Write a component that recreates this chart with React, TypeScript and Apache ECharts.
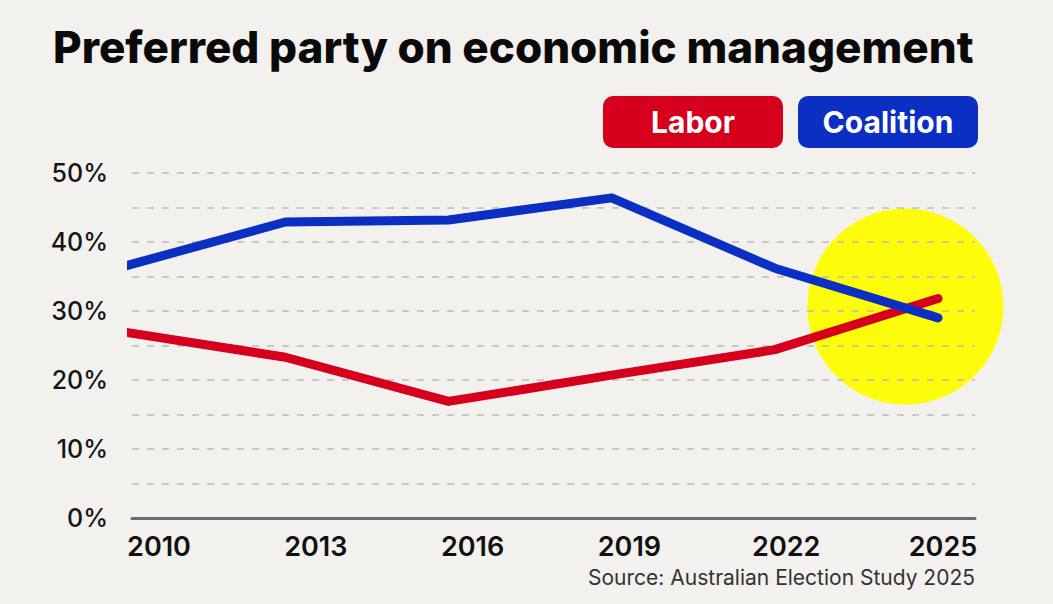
import React, { useEffect, useRef } from "react";
import * as echarts from "echarts";

const years = [2010, 2013, 2016, 2019, 2022, 2025];
const yearLabels = ["2010", "2013", "2016", "2019", "2022", "2025"];
const labor = [27.0, 23.3, 16.9, 20.7, 24.4, 31.8];
const coalition = [36.4, 42.9, 43.2, 46.4, 36.2, 29.0];
const highlight = [[2024.4, 30.65]];
const seriesNames = ["Labor", "Coalition"];

const RED = "#d6001c";
const BLUE = "#0b2fc3";
const FONT = "Inter, 'Noto Sans', sans-serif";

const pill = (bg: string) => ({
  backgroundColor: bg,
  color: "#ffffff",
  borderRadius: 10,
  width: 180,
  height: 52,
  lineHeight: 52,
  align: "center",
  fontFamily: FONT,
  fontWeight: 700,
  fontSize: 30,
});

export default function App() {
  const ref = useRef<HTMLDivElement>(null);
  useEffect(() => {
    if (!ref.current) return;
    const chart = echarts.init(ref.current, null, { renderer: "svg" });
    chart.setOption({
      animation: false,
      backgroundColor: "#f2f1ee",
      title: {
        text: "Preferred party on economic management",
        left: 48,
        top: 20,
        textStyle: { fontFamily: FONT, fontWeight: 800, fontSize: 44, color: "#0a0a0a" },
      },
      legend: {
        right: 70,
        top: 91,
        icon: "none",
        itemWidth: 0,
        itemGap: 10,
        selectedMode: false,
        data: seriesNames,
        formatter: (name: string) => (name === seriesNames[0] ? `{l|${name}}` : `{c|${name}}`),
        textStyle: {
          rich: { l: pill(RED), c: pill(BLUE) },
        },
      },
      graphic: [
        {
          type: "text",
          right: 78,
          top: 567,
          style: {
            text: "Source: Australian Election Study 2025",
            fontFamily: FONT,
            fontSize: 21,
            fill: "#333333",
          },
        },
      ],
      grid: [
        { left: 132, right: 78, top: 173, bottom: 86 },
        { left: 159, right: 110, top: 173, bottom: 86 },
      ],
      xAxis: [
        {
          type: "value",
          gridIndex: 0,
          min: 2010.18,
          max: 2025.68,
          z: 1,
          axisLine: { show: true, lineStyle: { color: "#6b6b6b", width: 3 } },
          axisTick: { show: false },
          axisLabel: { show: false },
          splitLine: { show: false },
        },
        {
          type: "category",
          gridIndex: 1,
          data: yearLabels,
          boundaryGap: false,
          axisLine: { show: false },
          axisTick: { show: false },
          splitLine: { show: false },
          axisLabel: {
            margin: 15,
            fontFamily: FONT,
            fontWeight: 600,
            fontSize: 27,
            color: "#111111",
          },
        },
      ],
      yAxis: [
        {
          type: "value",
          gridIndex: 0,
          min: 0,
          max: 50,
          interval: 5,
          z: 1,
          axisLine: { show: false },
          axisTick: { show: false },
          axisLabel: {
            margin: 24,
            fontFamily: FONT,
            fontWeight: 500,
            fontSize: 25,
            color: "#151515",
            formatter: (v: number) => (v % 10 === 0 ? `${v}%` : ""),
          },
          splitLine: {
            show: true,
            lineStyle: { color: "#b9b9b9", width: 1.5, type: [7, 8] },
          },
        },
        { type: "value", gridIndex: 1, show: false, min: 0, max: 50 },
      ],
      series: [
        {
          type: "scatter",
          name: "highlight",
          xAxisIndex: 0,
          yAxisIndex: 0,
          data: highlight,
          symbol: "circle",
          symbolSize: 196,
          itemStyle: { color: "#fdfc0a", opacity: 1 },
          z: -1,
          silent: true,
          clip: false,
        },
        {
          type: "line",
          name: seriesNames[0],
          xAxisIndex: 0,
          yAxisIndex: 0,
          data: years.map((y, i) => [y, labor[i]]),
          showSymbol: false,
          symbol: "none",
          color: RED,
          lineStyle: { color: RED, width: 9, cap: "round", join: "round" },
          z: 3,
          clip: false,
          silent: true,
        },
        {
          type: "line",
          name: seriesNames[1],
          xAxisIndex: 0,
          yAxisIndex: 0,
          data: years.map((y, i) => [y, coalition[i]]),
          showSymbol: false,
          symbol: "none",
          color: BLUE,
          lineStyle: { color: BLUE, width: 9, cap: "round", join: "round" },
          z: 4,
          clip: false,
          silent: true,
        },
      ],
    });
    return () => chart.dispose();
  }, []);
  return (
    <div
      ref={ref}
      style={{ position: "fixed", left: 0, top: 0, width: 1053, height: 604 }}
    />
  );
}
